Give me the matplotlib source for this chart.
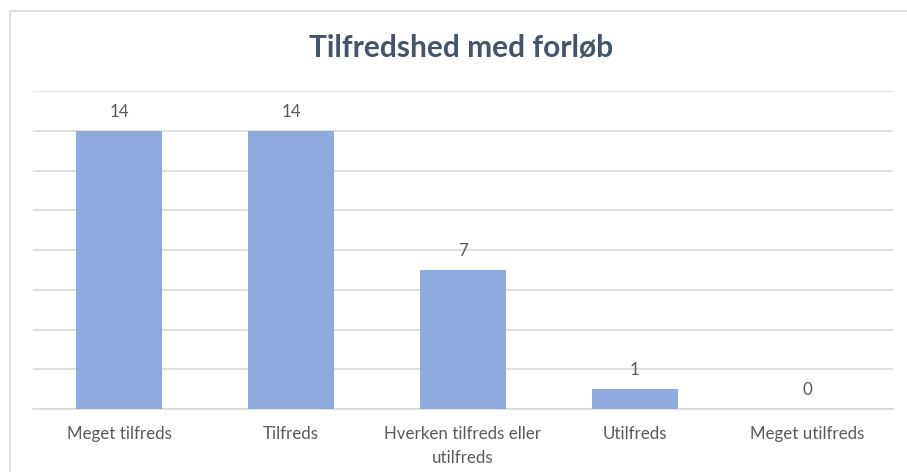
import matplotlib
matplotlib.use("Agg")
import matplotlib.pyplot as plt
from matplotlib.patches import Rectangle

categories = ["Meget tilfreds", "Tilfreds", "Hverken tilfreds eller\nutilfreds", "Utilfreds", "Meget utilfreds"]
values = [14, 14, 7, 1, 0]
yticks = [0, 2, 4, 6, 8, 10, 12, 14, 16]
title = "Tilfredshed med forløb"

plt.rcParams['font.family'] = ['Lato', 'DejaVu Sans']

W, H = 907, 472
fig = plt.figure(figsize=(W/100, H/100), dpi=100)
fig.patch.set_facecolor("white")

# outer chart border (partly cropped)
fig.add_artist(Rectangle((10/W, -0.05), 1.2, (H-11)/H + 0.05, transform=fig.transFigure,
                         fill=False, edgecolor="#D9D9D9", linewidth=1.2))

ax = fig.add_axes([33/W, (H-409)/H, (893-33)/W, (409-91)/H])
x = list(range(len(categories)))
ax.bar(x, values, width=0.5, color="#8FAADC", zorder=3)
ax.set_xlim(-0.5, len(categories)-0.5)
ax.set_ylim(0, 16)
ax.set_yticks(yticks)
ax.yaxis.grid(True, color="#D9D9D9", linewidth=1.2, zorder=0)
ax.tick_params(axis="y", left=False, labelleft=False)
ax.tick_params(axis="x", bottom=False, labelsize=12.2, labelcolor="#595959", pad=9)
ax.set_xticks(x)
ax.set_xticklabels(categories, linespacing=1.55)
for s in ["top", "right", "left"]:
    ax.spines[s].set_visible(False)
ax.spines["bottom"].set_color("#D9D9D9")
ax.spines["bottom"].set_linewidth(1.2)
for xi, v in zip(x, values):
    ax.annotate(str(v), (xi, v), xytext=(0, 8), textcoords="offset points",
                ha="center", va="bottom", fontsize=12.2, color="#595959")

fig.text(461/W, 1 - 48/H, title, ha="center", va="center", fontsize=21.5,
         fontweight="bold", color="#44546A")

fig.savefig("out.png", dpi=100, facecolor="white")
